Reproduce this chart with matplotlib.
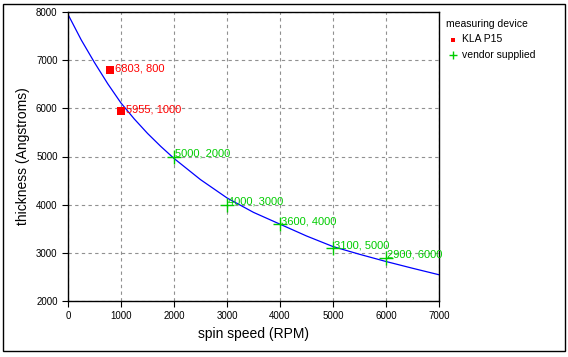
import matplotlib
matplotlib.use("Agg")
import matplotlib.pyplot as plt
from matplotlib.patches import Rectangle

plt.rcParams['font.family'] = ['Liberation Sans', 'DejaVu Sans']

kla_x = [800, 1000]
kla_y = [6803, 5955]
vendor_x = [2000, 3000, 4000, 5000, 6000]
vendor_y = [5000, 4000, 3600, 3100, 2900]
fit_x = [0, 250, 500, 750, 1000, 1250, 1500, 1750, 2000, 2500, 3000, 3500,
         4000, 4500, 5000, 5500, 6000, 6500, 7000]
fit_y = [7950, 7420, 6950, 6510, 6110, 5780, 5480, 5210, 4960, 4520, 4140,
         3840, 3595, 3350, 3130, 2970, 2820, 2680, 2545]

fig = plt.figure(figsize=(5.68, 3.57), dpi=100)
ax = fig.add_axes([68/568, 1-301/357, (439-68)/568, (301-12)/357])

ax.plot(fit_x, fit_y, color='#0000ff', lw=0.9, zorder=2)
ax.scatter(kla_x, kla_y, marker='s', s=30, color='#ff0000', zorder=3,
           label='KLA P15', linewidths=0)
ax.scatter(vendor_x, vendor_y, marker='+', s=100, color='#00cc00', zorder=3,
           label='vendor supplied', linewidths=1.0)

for x, y in zip(kla_x, kla_y):
    ax.annotate(f"{y}, {x}", (x, y), xytext=(3.3, 1), textcoords='offset points',
                va='center', ha='left', fontsize=8, color='#ff0000')
for x, y in zip(vendor_x, vendor_y):
    ax.annotate(f"{y}, {x}", (x, y), xytext=(1, 2), textcoords='offset points',
                va='center', ha='left', fontsize=8, color='#00cc00')

ax.set_xlim(0, 7000)
ax.set_ylim(2000, 8000)
ax.set_xticks(range(0, 7001, 1000))
ax.set_yticks(range(2000, 8001, 1000))
ax.tick_params(labelsize=7, length=4, width=0.8, direction='out')
ax.grid(True, linestyle=(0, (3, 3)), color='#909090', lw=0.8)
ax.set_axisbelow(True)
for s in ax.spines.values():
    s.set_linewidth(1.0)
ax.set_xlabel('spin speed (RPM)', fontsize=10, labelpad=4)
ax.set_ylabel('thickness (Angstroms)', fontsize=10, labelpad=4)

leg = ax.legend(title='measuring device', loc='upper left',
                bbox_to_anchor=(1.0, 1.0), frameon=False, fontsize=7.5,
                title_fontsize=7.5, handletextpad=0.3, handlelength=1.2,
                borderaxespad=0.3, markerscale=0.6)
leg._legend_box.align = 'left'

fig.patches.append(Rectangle((3/568, 1-351/357), 562/568, 347/357,
                             transform=fig.transFigure, fill=False,
                             edgecolor='black', lw=1.0))
fig.savefig('out.png', dpi=100)
